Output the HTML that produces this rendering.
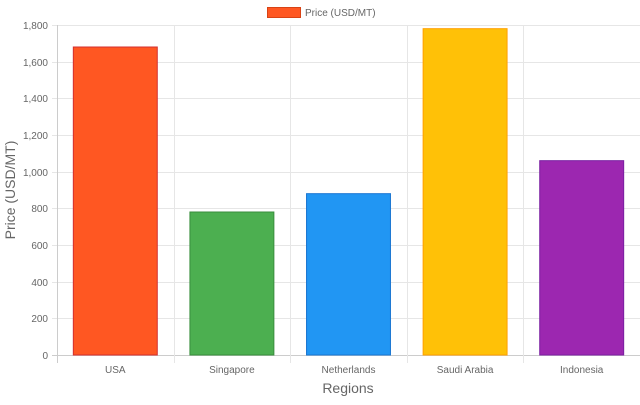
<!DOCTYPE html>
<html><head><meta charset="utf-8"><style>
body{margin:0;background:#fff;font-family:"Liberation Sans",Arial,sans-serif}
svg text{font-family:"Liberation Sans",Arial,sans-serif}
</style></head><body>
<svg id="chart" width="640" height="400" xmlns="http://www.w3.org/2000/svg">
<g>
<rect x="267.5" y="7.5" width="33" height="10" fill="#FF5722" stroke="#D84315" stroke-width="1"/>
<text x="305" y="16" font-size="10" fill="#666">Price (USD/MT)</text>
</g>
<g id="grid"></g>
<g id="bars"></g>
<g id="labels"></g>
<text transform="translate(15,190) rotate(-90)" text-anchor="middle" font-size="14" fill="#666">Price (USD/MT)</text>
<text x="348" y="393" text-anchor="middle" font-size="14" fill="#666">Regions</text>
</svg>
<script>
const categories=["USA","Singapore","Netherlands","Saudi Arabia","Indonesia"];
const values=[1680,780,880,1780,1060];
const yTicks=[0,200,400,600,800,1000,1200,1400,1600,1800];
const tickLabels=["0","200","400","600","800","1,000","1,200","1,400","1,600","1,800"];
const fills=["#FF5722","#4CAF50","#2196F3","#FFC107","#9C27B0"];
const strokes=["#D32F2F","#388E3C","#1976D2","#FFA000","#7B1FA2"];
const NS="http://www.w3.org/2000/svg";
const plotLeft=57,plotRight=640,plotTop=25,plotBottom=355,yMax=1800;
const yScale=v=>plotBottom-(v/yMax)*(plotBottom-plotTop);
const cw=(plotRight-plotLeft)/categories.length;
const xScale=i=>plotLeft+i*cw;
function mk(tag,attrs,parent){const e=document.createElementNS(NS,tag);for(const k in attrs)e.setAttribute(k,attrs[k]);parent.appendChild(e);return e;}
const grid=document.getElementById('grid'),bars=document.getElementById('bars'),labels=document.getElementById('labels');
yTicks.forEach((t,i)=>{
  const yy=Math.round(yScale(t))+0.5;
  const l=mk('line',{x1:plotLeft-5,x2:plotRight,y1:yy,y2:yy,stroke:t===0?'#ccc':'#e6e6e6','stroke-width':1},grid);
  
  
  const tx=mk('text',{x:plotLeft-9,y:yy+3.5,'text-anchor':'end','font-size':10,fill:'#666'},labels);
  tx.textContent=tickLabels[i];
  
  
});
for(let i=0;i<=categories.length;i++){
  const xx=Math.round(xScale(i))+0.5;
  const l=mk('line',{x1:xx,x2:xx,y1:plotTop,y2:plotBottom+8,stroke:i===0?'#ccc':'#e6e6e6','stroke-width':1},grid);
  
  
}
categories.forEach((c,i)=>{
  const bw=cw*0.72, bx=xScale(i)+(cw-bw)/2;
  const r=mk('rect',{x:bx,y:yScale(values[i]),width:bw,height:plotBottom-yScale(values[i]),fill:fills[i],stroke:strokes[i],'stroke-width':1},bars);
  
  
  const tx=mk('text',{x:xScale(i)+cw/2,y:373,'text-anchor':'middle','font-size':10,fill:'#666'},labels);
  tx.textContent=c;
  
  
});
</script>
</body></html>
